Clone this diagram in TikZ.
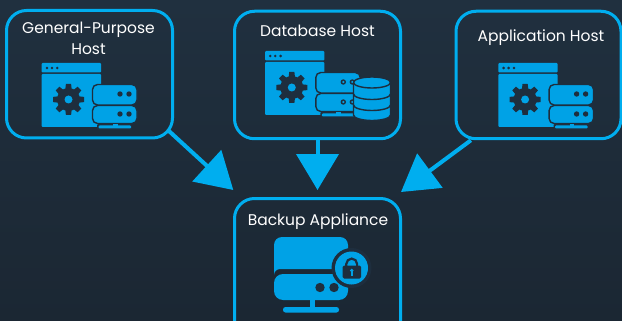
\documentclass[tikz,border=0pt]{standalone}
\usepackage{fontspec}
\setmainfont{Poppins}
\usetikzlibrary{arrows.meta,calc}
\definecolor{linkblue}{HTML}{00AEEF}
\definecolor{iconblue}{HTML}{00A2E6}
\definecolor{bgtop}{HTML}{20303F}
\definecolor{bgbot}{HTML}{1B2733}
\definecolor{ink}{HTML}{1E2E3E}
\tikzset{
  hostbox/.style={draw=linkblue,line width=3pt,rounded corners=20pt,inner sep=0pt,fill=none},
  hostlabel/.style={text=white,font=\fontsize{15.5}{21}\selectfont,align=center,inner sep=0pt},
  linkarrow/.style={draw=linkblue,line width=4pt,-{Triangle[length=36pt,width=42pt,fill=linkblue]}},
  serverpart/.style={fill=iconblue,draw=ink,line width=1.4pt,rounded corners=5pt}
}
\newcommand{\gearicon}[2]{%
  \begin{scope}[shift={(#1,#2)}]
    \fill[ink] (0,0) circle (11.5pt);
    \foreach \a in {0,45,...,315}{
      \fill[ink,rotate=\a] (-3.2pt,-10pt) -- (-2.6pt,-15.5pt) -- (2.6pt,-15.5pt) -- (3.2pt,-10pt) -- cycle;
    }
    \fill[iconblue] (0,0) circle (4pt);
  \end{scope}}
\newcommand{\hosticon}[2]{%
  \begin{scope}[shift={(#1,#2)}]
    \fill[iconblue,rounded corners=1pt] (41.7,63) rectangle (101,72.5);
    \fill[iconblue,rounded corners=1pt] (41.7,74) rectangle (101,127);
    \foreach \x in {47,52,57.3}{\fill[ink] (\x,68) circle (1.4pt);}
    \gearicon{68.5}{99.5}
    \fill[ink] (110,122) rectangle (120,127);
    \fill[ink,rounded corners=1pt] (97,124) rectangle (132,130);
    \path[serverpart] (92.5,105.5) rectangle (137,123.5);
    \path[serverpart] (92.5,84.5) rectangle (137,105);
    \foreach \y in {94,114}{
      \foreach \x in {120,129}{\fill[ink] (\x,\y) circle (2.7pt);}
    }
    \fill[iconblue] (113,124.2) rectangle (117.5,127);
    \fill[iconblue,rounded corners=1pt] (98.5,125.5) rectangle (131,128.5);
  \end{scope}}
\begin{document}
\begin{tikzpicture}[x=1pt,y=-1pt]
\useasboundingbox (0,0) rectangle (622,321);
\clip (0,0) rectangle (622,321);
\shade[top color=bgtop,bottom color=bgbot] (0,0) rectangle (622,321);

\node[hostbox,minimum width=166pt,minimum height=127.5pt] (b1) at (89.5,74.25) {};
\node[hostbox,minimum width=166pt,minimum height=127.5pt] (b2) at (317.5,75) {};
\node[hostbox,minimum width=165pt,minimum height=127.5pt] (b3) at (538.5,75) {};
\node[hostbox,minimum width=166pt,minimum height=146pt] (b4) at (317.5,271.5) {};

\node[hostlabel] (l1) at (88.5,38.5) {General-Purpose\\Host};
\node[hostlabel] (l2) at (317.5,31) {Database Host};
\node[hostlabel] (l3) at (541,38) {Application Host};
\node[hostlabel] (l4) at (318,222) {Backup Appliance};

\coordinate (t1) at (233.3,190);
\coordinate (t2) at (317.5,190);
\coordinate (t3) at (401,192);
\draw[linkarrow,shorten <=-8pt] (b1.-36) -- (t1);
\draw[linkarrow] (b2.south) -- (t2);
\draw[linkarrow] (b3.-136.5) -- (t3);

\hosticon{0}{0}
\hosticon{223.3}{-12}
\hosticon{456.6}{0}
% rings on the database host's server
\foreach \y in {82,102}{
  \foreach \x in {343.3,352.3}{\fill[iconblue] (\x,\y) circle (1.2pt);}
}
% database cylinder
\path[fill=iconblue,draw=ink,line width=1.4pt] (353.5,82.5) arc[start angle=180,end angle=0,x radius=18.5pt,y radius=5.5pt] -- (390.5,115) arc[start angle=360,end angle=180,x radius=18.5pt,y radius=5.5pt] -- cycle;
\foreach \y in {82.5,94,105}{
  \draw[ink,line width=1.4pt] (353.5,\y) arc[start angle=180,end angle=360,x radius=18.5pt,y radius=5.5pt];
}

% backup icon
\fill[iconblue] (282,237) -- (340,237) arc[start angle=90,end angle=0,radius=8pt] -- (348,269) -- (280,269) arc[start angle=90,end angle=180,radius=6pt] -- (274,245) arc[start angle=180,end angle=90,radius=8pt] -- cycle;
\fill[iconblue,rounded corners=9pt] (274,274) rectangle (348,300);
\fill[iconblue] (310,299) rectangle (315,308);
\fill[iconblue,rounded corners=2.5pt] (283,307) rectangle (339,312.5);
\foreach \x in {320,334}{\fill[ink] (\x,287.5) circle (4.7pt);}
\fill[ink] (351.5,268) circle (20pt);
\fill[iconblue] (351.5,268) circle (16.5pt);
\draw[ink,line width=2.2pt] (346.3,267) -- (346.3,264) arc[start angle=180,end angle=0,radius=5.4pt] -- (357.1,267);
\fill[ink,rounded corners=1.5pt] (342.7,265.5) rectangle (361,278.5);
\fill[iconblue] (351.8,270.5) circle (1.9pt);
\fill[iconblue] (351,270.5) rectangle (352.6,275.5);
\end{tikzpicture}
\end{document}
